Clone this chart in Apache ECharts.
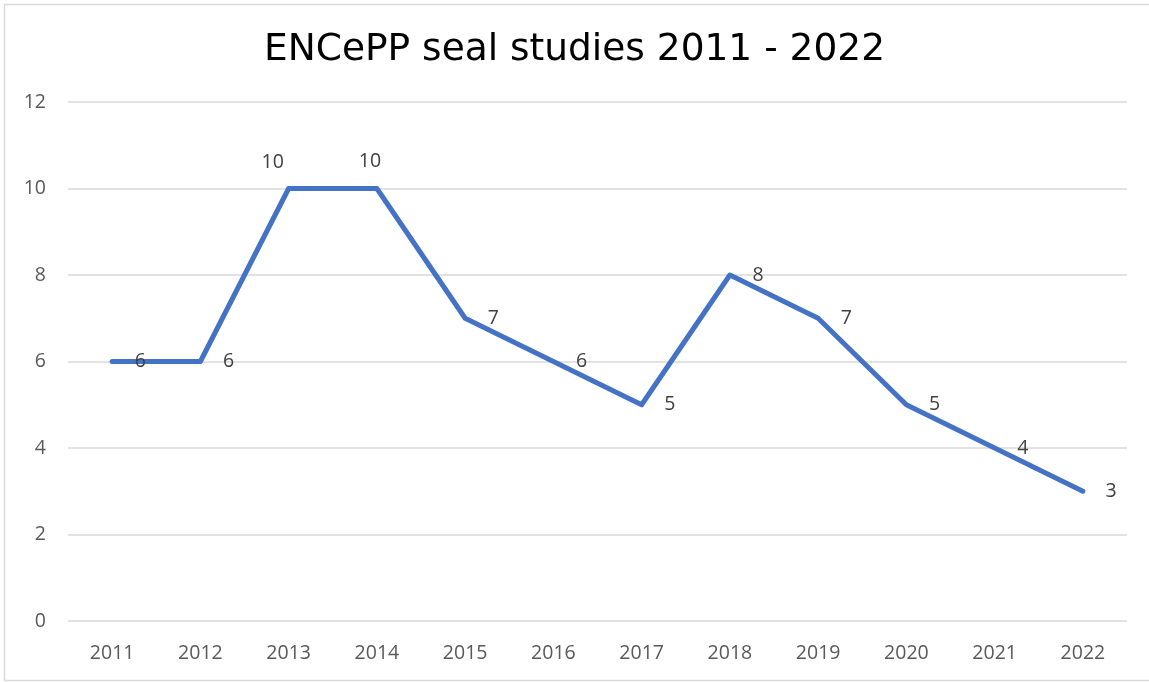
<!DOCTYPE html>
<html><head><meta charset="utf-8">
<script src="https://cdn.jsdelivr.net/npm/echarts@6/dist/echarts.min.js"></script>
<style>html,body{margin:0;padding:0;background:#fff}#c{width:1149px;height:682px}</style>
</head><body><div id="c"></div>
<script>
const titleText = 'ENCePP seal studies 2011 - 2022';
const years = ['2011','2012','2013','2014','2015','2016','2017','2018','2019','2020','2021','2022'];
const values = [6,6,10,10,7,6,5,8,7,5,4,3];

const chart = echarts.init(document.getElementById('c'));
const data = values.map((v,i)=>{
  const d = {value:v};
  if (years[i]==='2013') d.label = {position:'top', distance:5, offset:[-16,-11]};
  if (years[i]==='2014') d.label = {position:'top', distance:5, offset:[-7,-12]};
  return d;
});
chart.setOption({
  animation:false,
  title:{text:titleText,left:'center',top:26,textStyle:{fontFamily:'DejaVu Sans',fontSize:37.5,fontWeight:'normal',color:'#000'}},
  grid:{left:68,right:22,top:102,bottom:61},
  xAxis:{type:'category',data:years,boundaryGap:true,
    axisLine:{show:false},axisTick:{show:false},
    axisLabel:{color:'#595959',fontFamily:'Open Sans',fontSize:19.5,margin:22}},
  yAxis:{type:'value',min:0,max:12,interval:2,
    axisLine:{show:false},axisTick:{show:false},
    splitLine:{lineStyle:{color:'#d9d9d9',width:1.5}},
    axisLabel:{color:'#595959',fontFamily:'Open Sans',fontSize:19.5,margin:22}},
  series:[{type:'line',data:data,symbol:'circle',symbolSize:1,showSymbol:true,
    itemStyle:{color:'rgba(0,0,0,0)'},
    lineStyle:{color:'#4472C4',width:5,cap:'round',join:'round'},
    label:{show:true,position:'right',distance:22,color:'#404040',fontFamily:'Open Sans',fontSize:19.5}}],
  graphic:[{type:'rect',shape:{x:4.5,y:4.5,width:1150,height:676},style:{fill:'none',stroke:'#d9d9d9',lineWidth:1.5},silent:true}]
});
</script></body></html>
